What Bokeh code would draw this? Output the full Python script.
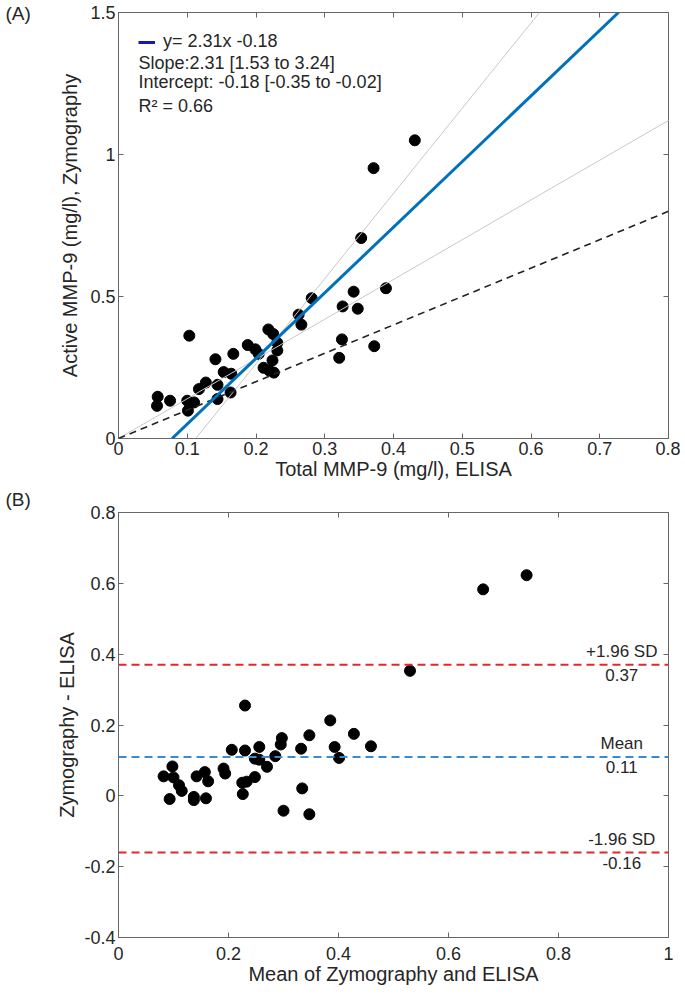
from bokeh.plotting import figure
from bokeh.models import (Slope, Span, Label, Legend, LegendItem, LinearAxis,
                          FixedTicker, CustomJSTickFormatter, Range1d, Title)
from bokeh.layouts import column
from bokeh.embed import file_html
from bokeh.resources import INLINE

FONT = "Liberation Sans"
TXT = "#262626"
AX = "#666666"

# ---------------- Panel A : regression ----------------
elisa_total = [0.103, 0.057, 0.056, 0.075, 0.100, 0.101, 0.110, 0.117, 0.127, 0.144,
               0.144, 0.141, 0.153, 0.164, 0.167, 0.163, 0.188, 0.199, 0.204, 0.218,
               0.225, 0.231, 0.231, 0.224, 0.211, 0.219, 0.226, 0.262, 0.266, 0.281,
               0.321, 0.325, 0.326, 0.342, 0.348, 0.353, 0.371, 0.372, 0.389, 0.431]
zymo_active = [0.362, 0.147, 0.115, 0.133, 0.133, 0.098, 0.127, 0.174, 0.197, 0.189,
               0.139, 0.279, 0.234, 0.228, 0.298, 0.162, 0.329, 0.314, 0.298, 0.384,
               0.368, 0.337, 0.310, 0.275, 0.249, 0.240, 0.232, 0.436, 0.401, 0.494,
               0.284, 0.349, 0.465, 0.517, 0.457, 0.706, 0.952, 0.325, 0.529, 1.050]
a_x_ticks = [0, 0.1, 0.2, 0.3, 0.4, 0.5, 0.6, 0.7, 0.8]
a_y_ticks = [0, 0.5, 1, 1.5]
fit_slope, fit_intercept = 2.31, -0.18
band_steep_slope, band_steep_intercept = 3.0, -0.337
band_shallow_slope, band_shallow_intercept = 1.40, 0.0
identity_slope, identity_intercept = 1.0, 0.0
legend_texts = ["y= 2.31x -0.18", "Slope:2.31 [1.53 to 3.24]",
                "Intercept: -0.18 [-0.35 to -0.02]", "R\u00b2 = 0.66"]

# ---------------- Panel B : Bland-Altman ----------------
ba_mean = [0.230, 0.082, 0.098, 0.100, 0.110, 0.115, 0.093, 0.137, 0.137, 0.159,
           0.142, 0.157, 0.163, 0.191, 0.194, 0.206, 0.230, 0.225, 0.233, 0.248,
           0.226, 0.256, 0.248, 0.256, 0.270, 0.285, 0.297, 0.295, 0.332, 0.347,
           0.334, 0.300, 0.347, 0.385, 0.393, 0.401, 0.428, 0.459, 0.530, 0.663, 0.742]
ba_diff = [0.255, 0.055, 0.083, 0.052, 0.030, 0.014, -0.009, -0.003, -0.012, -0.007,
           0.055, 0.067, 0.041, 0.077, 0.063, 0.130, 0.128, 0.037, 0.040, 0.053,
           0.005, 0.138, 0.105, 0.102, 0.082, 0.112, 0.163, 0.145, 0.133, 0.171,
           0.021, -0.042, -0.052, 0.213, 0.138, 0.107, 0.175, 0.140, 0.353, 0.583, 0.623]
b_x_ticks = [0, 0.2, 0.4, 0.6, 0.8, 1]
b_y_ticks = [-0.4, -0.2, 0, 0.2, 0.4, 0.6, 0.8]
mean_diff, upper_loa, lower_loa = 0.11, 0.37, -0.16
loa_texts = [("+1.96 SD", "0.37"), ("Mean", "0.11"), ("-1.96 SD", "-0.16")]

fmt_code = "return String(Math.round(tick*100)/100);"


def style(p, xt, yt, xlabel, ylabel, xstand, ystand):
    p.xaxis.ticker = FixedTicker(ticks=xt)
    p.yaxis.ticker = FixedTicker(ticks=yt)
    for ax in (p.xaxis[0], p.yaxis[0]):
        ax.formatter = CustomJSTickFormatter(code=fmt_code)
        ax.major_tick_in = 5
        ax.major_tick_out = 0
        ax.minor_tick_in = 0
        ax.minor_tick_out = 0
        ax.axis_line_color = AX
        ax.major_tick_line_color = AX
        ax.major_label_text_font = FONT
        ax.major_label_text_font_size = "18px"
        ax.major_label_text_color = TXT
        ax.axis_label_text_font = FONT
        ax.axis_label_text_font_size = "20px"
        ax.axis_label_text_font_style = "normal"
        ax.axis_label_text_color = TXT
        ax.major_label_standoff = 3
    p.xaxis.axis_label = xlabel
    p.yaxis.axis_label = ylabel
    p.xaxis.major_label_standoff = xstand
    p.xaxis.axis_label_standoff = 0
    p.yaxis.axis_label_standoff = ystand
    for loc, t in (("above", xt), ("right", yt)):
        ax = LinearAxis(ticker=FixedTicker(ticks=t),
                        formatter=CustomJSTickFormatter(code="return '';"),
                        major_tick_in=5, major_tick_out=0, minor_tick_in=0,
                        minor_tick_out=0, axis_line_color=AX,
                        major_tick_line_color=AX, major_label_standoff=0,
                        major_label_text_font_size="1px")
        p.add_layout(ax, loc)
    p.grid.visible = False
    p.outline_line_color = AX
    p.background_fill_color = "white"
    p.border_fill_color = "white"


def panel_tag(p, text, standoff):
    p.add_layout(Title(text=text, align="left", offset=-113, standoff=standoff,
                       text_font=FONT, text_font_size="19px",
                       text_font_style="normal", text_color=TXT,
                       vertical_align="bottom"), "above")


# ---- figure A ----  (frame: x 118..668, y 12..438)
pa = figure(width=680, height=484, output_backend="svg", toolbar_location=None,
            x_range=Range1d(0, 0.8), y_range=Range1d(0, 1.5),
            min_border_left=118, min_border_right=12, min_border_top=12,
            min_border_bottom=46)
style(pa, a_x_ticks, a_y_ticks, "Total MMP-9 (mg/l), ELISA",
      "Active MMP-9 (mg/l), Zymography", 3, 6)
panel_tag(pa, "(A)", -23)

pa.add_layout(Slope(gradient=band_steep_slope, y_intercept=band_steep_intercept,
                    line_color="#c8c8c8", line_width=1))
pa.add_layout(Slope(gradient=band_shallow_slope, y_intercept=band_shallow_intercept,
                    line_color="#c8c8c8", line_width=1))
pa.add_layout(Slope(gradient=identity_slope, y_intercept=identity_intercept,
                    line_color="#222222", line_width=1.6, line_dash="7 5"))
pa.add_layout(Slope(gradient=fit_slope, y_intercept=fit_intercept,
                    line_color="#0072BD", line_width=3))
pa.scatter(elisa_total, zymo_active, size=11, color="black")

key = pa.line(x=[float("nan")], y=[float("nan")], line_color="#1a1aa8", line_width=3)
leg = Legend(items=[LegendItem(label=legend_texts[0], renderers=[key])],
             margin=0, padding=0, border_line_alpha=0,
             background_fill_alpha=0, glyph_width=17, glyph_height=20,
             label_standoff=8, label_text_font=FONT, label_text_font_size="18px",
             label_text_color=TXT, label_height=20)
leg.location = (20, 386)
pa.add_layout(leg)
for i, t in enumerate(legend_texts[1:]):
    pa.add_layout(Label(x=20, y=[376, 357, 333][i], x_units="screen",
                        y_units="screen", text=t, text_font=FONT,
                        text_font_size="18px", text_color=TXT,
                        text_baseline="middle"))

# ---- figure B ----  (frame: x 118..668, y 512..937)
pb = figure(width=680, height=508, output_backend="svg", toolbar_location=None,
            x_range=Range1d(0, 1), y_range=Range1d(-0.4, 0.8),
            min_border_left=118, min_border_right=12, min_border_top=28,
            min_border_bottom=55)
style(pb, b_x_ticks, b_y_ticks, "Mean of Zymography and ELISA",
      "Zymography - ELISA", 9, 3)
panel_tag(pb, "(B)", 5)
for loc, col in ((upper_loa, "#E8262A"), (mean_diff, "#3A8BCF"), (lower_loa, "#E8262A")):
    pb.add_layout(Span(location=loc, dimension="width", line_color=col,
                       line_width=2, line_dash="8 5"))
pb.scatter(ba_mean, ba_diff, size=11, color="black")
for loc, (top_t, bot_t) in zip((upper_loa, mean_diff, lower_loa), loa_texts):
    pb.add_layout(Label(x=0.915, y=loc, text=top_t, text_align="center",
                        text_baseline="bottom", y_offset=4, text_font=FONT,
                        text_font_size="17px", text_color=TXT))
    pb.add_layout(Label(x=0.915, y=loc, text=bot_t, text_align="center",
                        text_baseline="top", y_offset=-4, text_font=FONT,
                        text_font_size="17px", text_color=TXT))

layout = column(pa, pb, spacing=0)
open("out.html", "w").write(file_html(layout, INLINE))
